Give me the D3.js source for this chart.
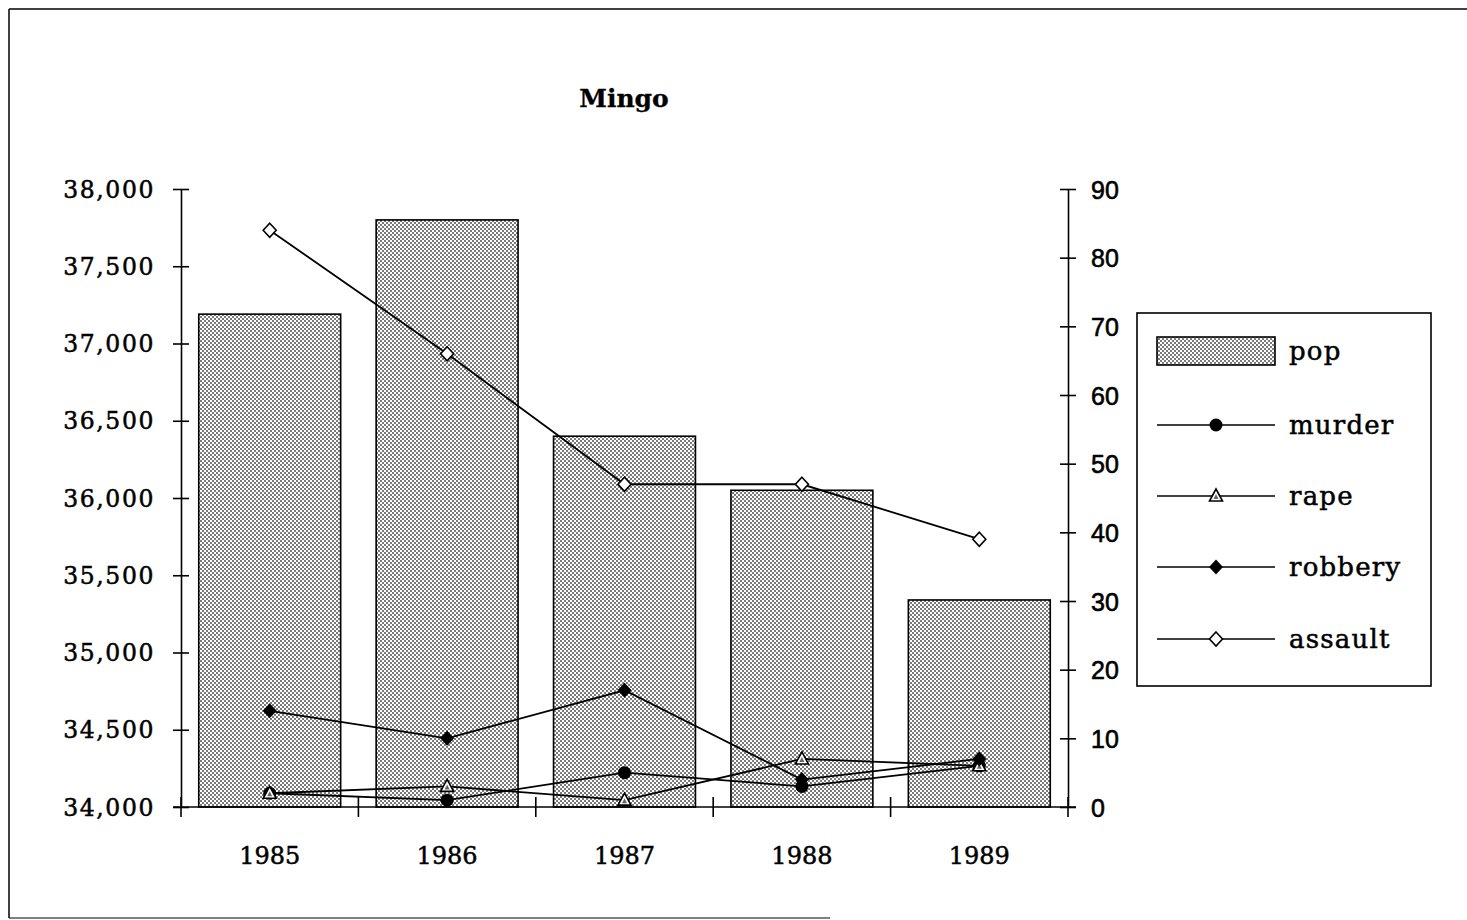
<!DOCTYPE html>
<html>
<head>
<meta charset="utf-8">
<script src="https://cdn.jsdelivr.net/npm/d3@7"></script>
<style>
  html, body { margin: 0; padding: 0; background: #fff; }
  svg { display: block; }
</style>
</head>
<body>
<svg id="chart" width="1467" height="920"></svg>
<script>
const years = ["1985", "1986", "1987", "1988", "1989"];
const pop = [37190, 37800, 36400, 36050, 35340];
const murder = [2, 1, 5, 3, 6];
const rape = [2, 3, 1, 7, 6];
const robbery = [14, 10, 17, 4, 7];
const assault = [84, 66, 47, 47, 39];
const leftTicks = [34000, 34500, 35000, 35500, 36000, 36500, 37000, 37500, 38000];
const rightTicks = [0, 10, 20, 30, 40, 50, 60, 70, 80, 90];
const seriesNames = ["murder", "rape", "robbery", "assault"];
const seriesData = [murder, rape, robbery, assault];
const legendNames = ["pop", "murder", "rape", "robbery", "assault"];

const svg = d3.select("#chart");
const serif = "'DejaVu Serif', 'Liberation Serif', serif";
const sans = "'Liberation Sans', Arial, sans-serif";

// pattern for bars
const defs = svg.append("defs");
const pat = defs.append("pattern").attr("id", "dots").attr("patternUnits", "userSpaceOnUse")
  .attr("width", 4).attr("height", 4);
pat.append("rect").attr("width", 4).attr("height", 4).attr("fill", "#fff");
pat.append("rect").attr("x", 0).attr("y", 0).attr("width", 2).attr("height", 2).attr("fill", "#7a7a7a");
pat.append("rect").attr("x", 2).attr("y", 2).attr("width", 2).attr("height", 2).attr("fill", "#7a7a7a");

// frame
svg.append("line").attr("x1", 9).attr("x2", 1467).attr("y1", 9).attr("y2", 9).attr("stroke", "#000").attr("stroke-width", 1.5);
svg.append("line").attr("x1", 9).attr("x2", 9).attr("y1", 9).attr("y2", 918).attr("stroke", "#000").attr("stroke-width", 1.5);
svg.append("line").attr("x1", 9).attr("x2", 830).attr("y1", 918).attr("y2", 918).attr("stroke", "#000").attr("stroke-width", 1.2);

const x0 = 181, x1 = 1068, yBot = 807, yTop = 189;
const x = d3.scaleBand().domain(years).range([x0, x1]).paddingInner(0.2).paddingOuter(0.1);
const yL = d3.scaleLinear().domain([34000, 38000]).range([yBot, yTop]);
const yR = d3.scaleLinear().domain([0, 90]).range([yBot, yTop]);

function heavy(sel, w) {
  sel.attr("stroke", "#000").attr("stroke-width", w).attr("paint-order", "stroke");
}

// title
heavy(svg.append("text").attr("x", 624).attr("y", 107).attr("text-anchor", "middle")
  .attr("font-family", serif).attr("font-weight", "bold").attr("font-size", 25)
  .text("Mingo"), 0.3);

// bars
svg.append("g").selectAll("rect").data(years).join("rect")
  .attr("x", d => x(d)).attr("width", x.bandwidth())
  .attr("y", (d, i) => yL(pop[i])).attr("height", (d, i) => yBot - yL(pop[i]))
  .attr("fill", "url(#dots)").attr("stroke", "#000").attr("stroke-width", 1.6);

// left axis
const axL = d3.axisLeft(yL).tickValues(leftTicks).tickSize(0).tickFormat(d3.format(","));
const gL = svg.append("g").attr("transform", `translate(${x0},0)`).call(axL);
gL.select(".domain").attr("stroke", "#000").attr("stroke-width", 1.6);
heavy(gL.selectAll(".tick text").attr("x", -26).attr("dy", "0.35em")
  .attr("font-family", serif).attr("font-size", 23.5).attr("letter-spacing", 1.6).attr("fill", "#000"), 0.5);
gL.selectAll(".tick").append("line").attr("x1", -8).attr("x2", 8).attr("stroke", "#000").attr("stroke-width", 1.6);

// right axis
const axR = d3.axisRight(yR).tickValues(rightTicks).tickSize(0);
const gR = svg.append("g").attr("transform", `translate(${x1},0)`).call(axR);
gR.select(".domain").attr("stroke", "#000").attr("stroke-width", 1.6);
heavy(gR.selectAll(".tick text").attr("x", 23).attr("dy", "0.36em")
  .attr("font-family", sans).attr("font-size", 25).attr("fill", "#000"), 0.6);
gR.selectAll(".tick").append("line").attr("x1", -8).attr("x2", 8).attr("stroke", "#000").attr("stroke-width", 1.6);

// bottom axis
const gB = svg.append("g").attr("transform", `translate(0,${yBot})`);
gB.append("line").attr("x1", x0 - 8).attr("x2", x1 + 8).attr("stroke", "#000").attr("stroke-width", 1.6);
const bTicks = [x0].concat(years.slice(1).map(d => x(d) - (x.step() - x.bandwidth()) / 2)).concat([x1]);
gB.selectAll("line.bt").data(bTicks).join("line").attr("class", "bt")
  .attr("x1", d => d).attr("x2", d => d).attr("y1", -10).attr("y2", 10)
  .attr("stroke", "#000").attr("stroke-width", 1.6);
heavy(gB.selectAll("text").data(years).join("text")
  .attr("x", d => x(d) + x.bandwidth() / 2).attr("y", 57).attr("text-anchor", "middle")
  .attr("font-family", serif).attr("font-size", 24).text(d => d), 0.5);

// lines
const cx = (d, i) => x(years[i]) + x.bandwidth() / 2;
const line = d3.line().x((d, i) => cx(d, i)).y(d => yR(d));
const lg = svg.append("g");
seriesData.forEach(arr => {
  lg.append("path").datum(arr).attr("d", line).attr("fill", "none").attr("stroke", "#000").attr("stroke-width", 1.8);
});

function drawMarker(g, name, px, py) {
  if (name === "murder") {
    g.append("circle").attr("cx", px).attr("cy", py).attr("r", 6.5).attr("fill", "#000");
  } else if (name === "rape") {
    g.append("path").attr("d", `M${px},${py - 7}L${px + 6.5},${py + 5}L${px - 6.5},${py + 5}Z`)
      .attr("fill", "#fff").attr("stroke", "#000").attr("stroke-width", 1.6);
    g.append("path").attr("d", `M${px},${py - 2}L${px + 2.5},${py + 3}L${px - 2.5},${py + 3}Z`)
      .attr("fill", "#666");
  } else if (name === "robbery") {
    g.append("path").attr("d", `M${px},${py - 7.5}L${px + 7},${py}L${px},${py + 7.5}L${px - 7},${py}Z`).attr("fill", "#000");
  } else if (name === "assault") {
    g.append("path").attr("d", `M${px},${py - 7}L${px + 6.5},${py}L${px},${py + 7}L${px - 6.5},${py}Z`)
      .attr("fill", "#fff").attr("stroke", "#000").attr("stroke-width", 1.6);
  }
}
seriesData.forEach((arr, si) => {
  arr.forEach((v, i) => drawMarker(lg, seriesNames[si], cx(v, i), yR(v)));
});

// legend
const leg = svg.append("g");
leg.append("rect").attr("x", 1137).attr("y", 313).attr("width", 294).attr("height", 373)
  .attr("fill", "#fff").attr("stroke", "#000").attr("stroke-width", 1.6);
const legY = [351, 425, 496, 567, 639];
legendNames.forEach((name, i) => {
  const ly = legY[i];
  if (name === "pop") {
    leg.append("rect").attr("x", 1157).attr("y", ly - 14).attr("width", 118).attr("height", 28)
      .attr("fill", "url(#dots)").attr("stroke", "#000").attr("stroke-width", 1.6);
  } else {
    leg.append("line").attr("x1", 1157).attr("x2", 1275).attr("y1", ly).attr("y2", ly)
      .attr("stroke", "#000").attr("stroke-width", 1.6);
    drawMarker(leg, name, 1216, ly);
  }
  heavy(leg.append("text").attr("x", 1289).attr("y", ly + 9).attr("font-family", serif)
    .attr("font-size", 26).attr("letter-spacing", 1.2).text(name), 0.5);
});
</script>
</body>
</html>
